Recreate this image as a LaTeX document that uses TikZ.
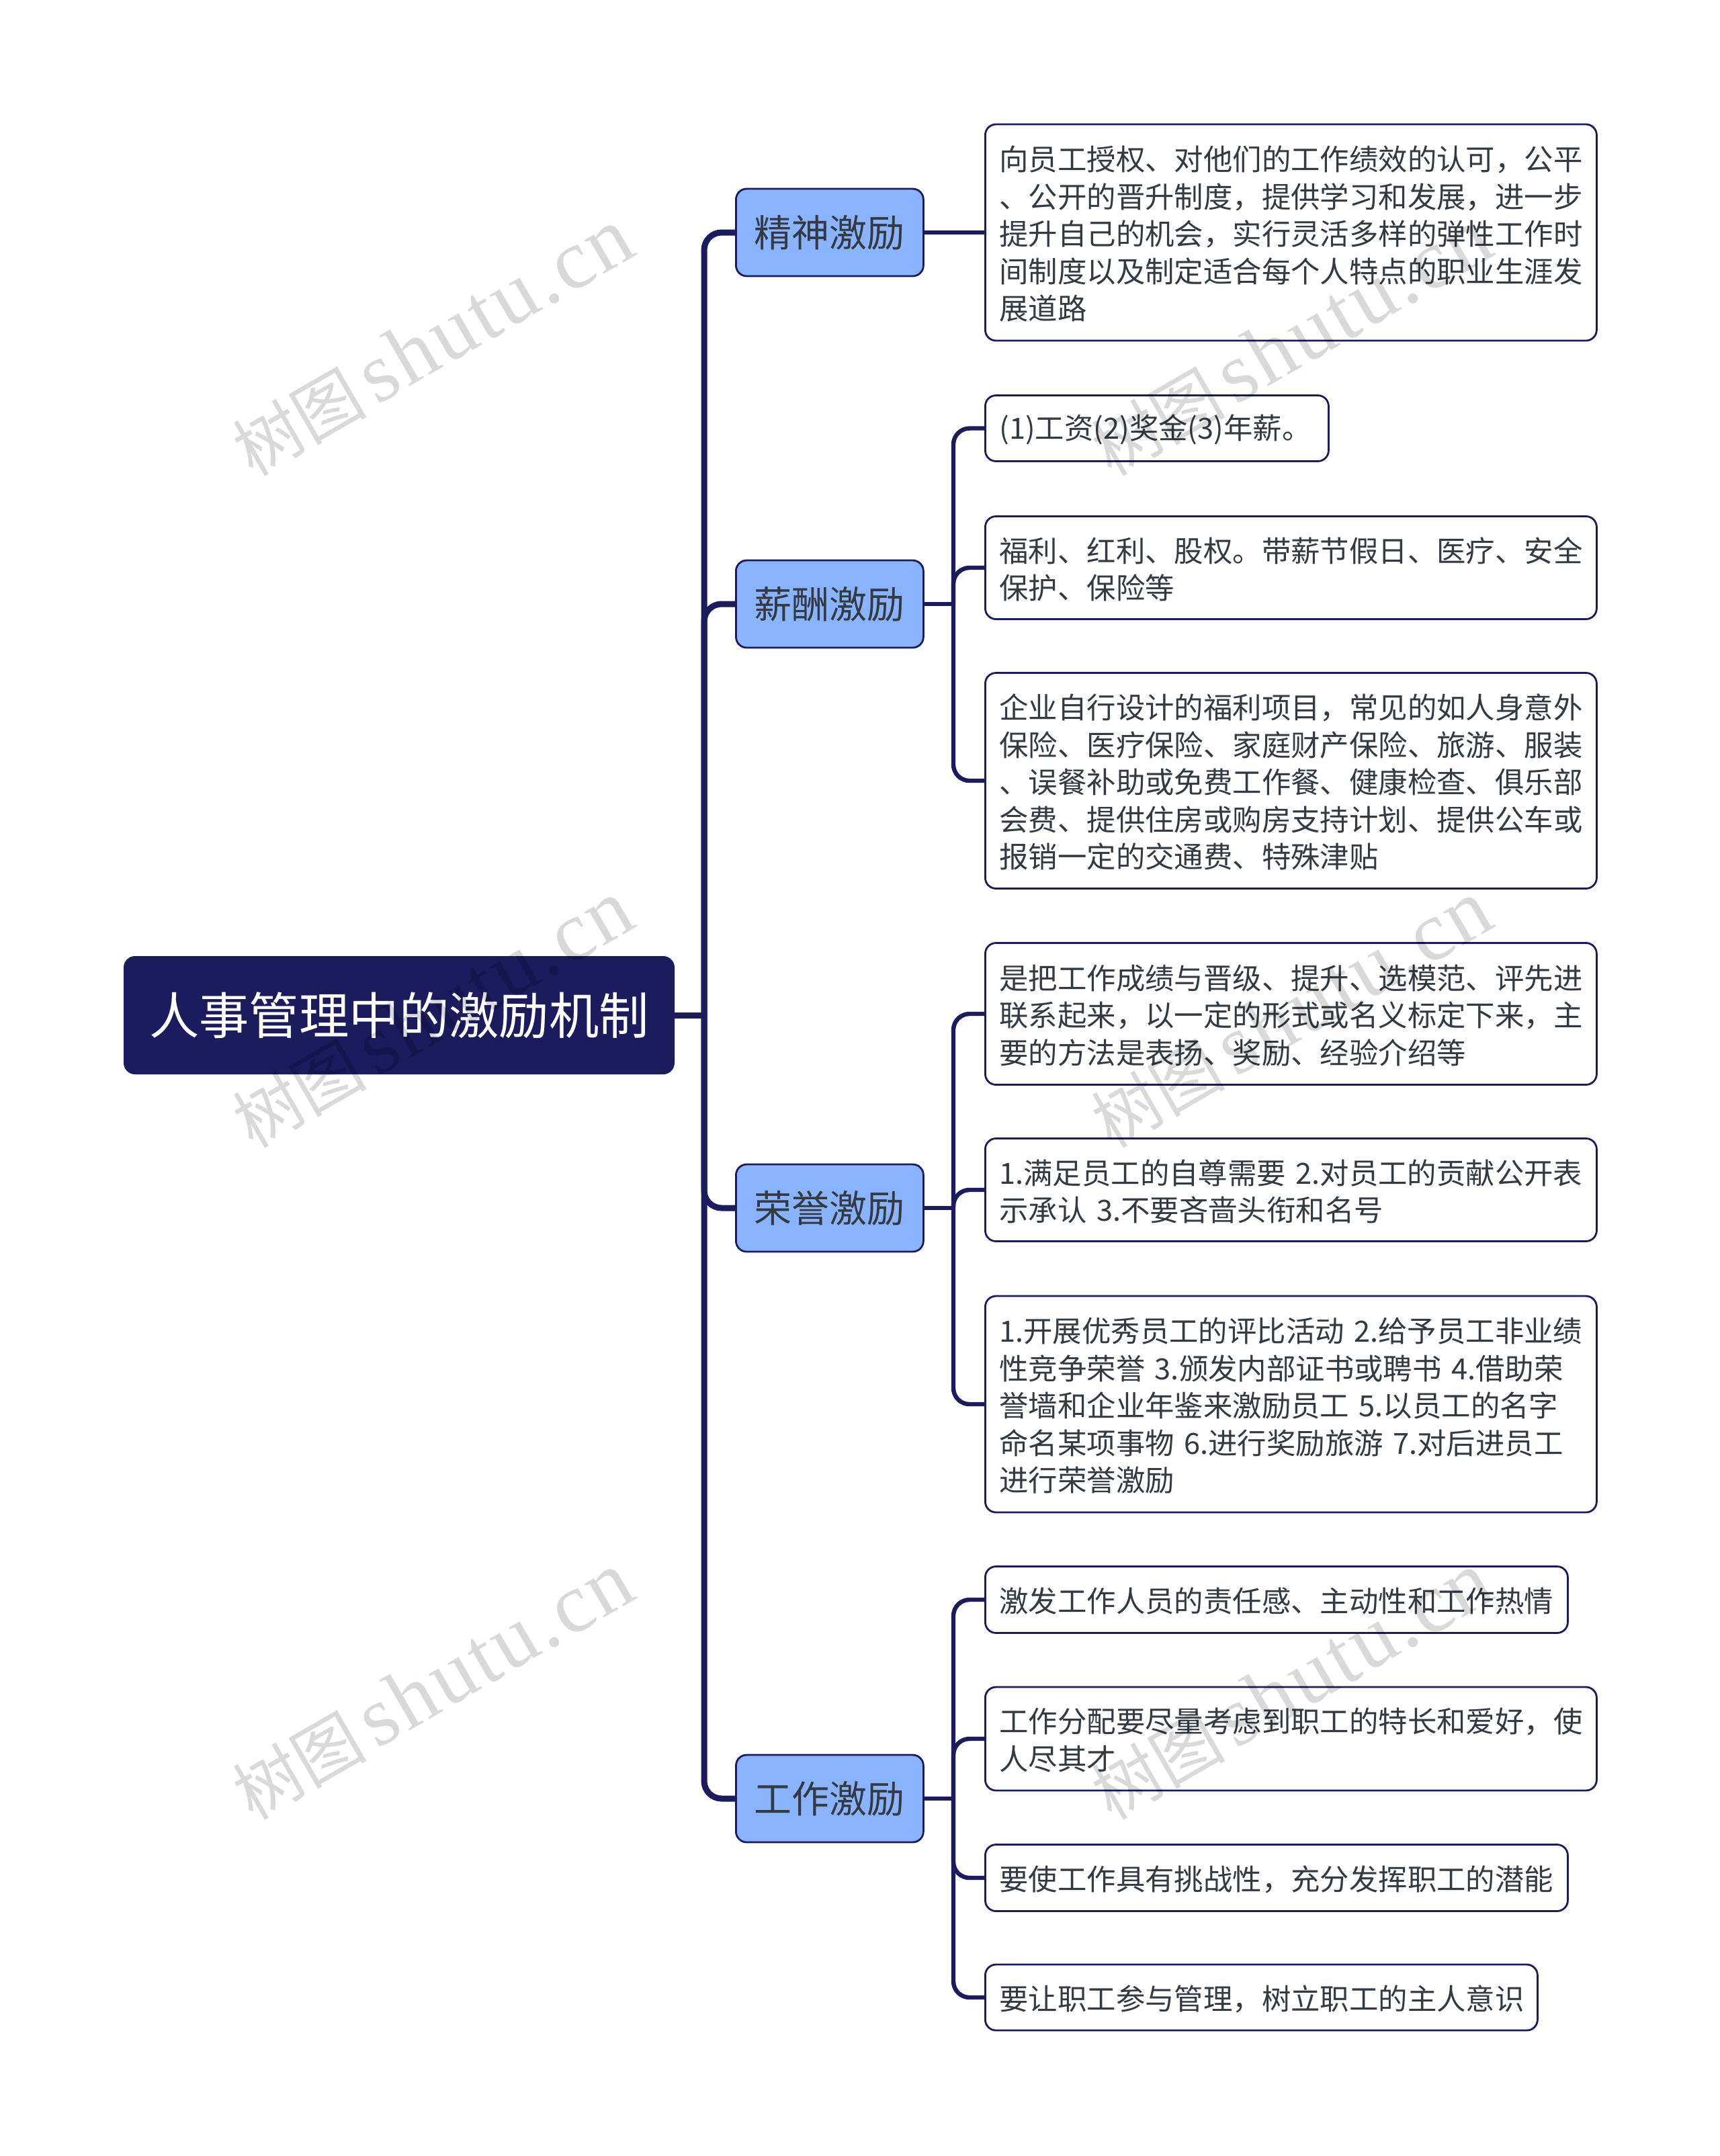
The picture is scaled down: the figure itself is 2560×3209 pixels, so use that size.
\documentclass[tikz,border=0pt]{standalone}
\usepackage{xcolor}
\usepackage{fontspec}
\setmainfont{Noto Sans CJK SC}
\newfontfamily\markcjk{Noto Sans CJK SC}
\newfontfamily\marklatin[LetterSpace=3]{Liberation Serif}
\usetikzlibrary{positioning}

\definecolor{navy}{HTML}{1B1B5E}
\definecolor{skyfill}{HTML}{8AB4FF}
\definecolor{inktext}{HTML}{333A42}

\tikzset{
	rootbox/.style={draw=navy, line width=1pt, fill=navy, text=white, rounded corners=8pt, anchor=west, minimum width=409pt, minimum height=87pt, inner sep=0pt, font=\fontsize{37.2}{44}\selectfont},
	branchbox/.style={draw=navy, line width=1.4pt, fill=skyfill, text=inktext, rounded corners=8pt, anchor=west, minimum width=139.5pt, minimum height=65pt, inner sep=0pt, font=\fontsize{28}{34}\selectfont},
	leafbox/.style={draw=navy, line width=1.4pt, fill=white, text=inktext, rounded corners=8pt, anchor=west, align=left, inner xsep=10.5pt, inner ysep=0pt, font=\fontsize{21.7}{27.7}\selectfont, execute at begin node={\rule{0pt}{20.5pt}}},
	linkmain/.style={draw=navy, line width=4.5pt, rounded corners=13pt},
	linksub/.style={draw=navy, line width=3.2pt, rounded corners=12pt},
	markstyle/.style={text=black, text opacity=0.15, rotate=30, inner sep=0pt}
}

\begin{document}
\begin{tikzpicture}[x=0.5pt, y=-0.5pt]
	\useasboundingbox (0,0) rectangle (2560,3209);
	
	\coordinate (trunk) at (1048,1511);
	\coordinate (sub2) at (1419,899);
	\coordinate (sub3) at (1419,1798);
	\coordinate (sub4) at (1419,2677);
	
	\node[rootbox] (root) at (184,1511) {人事管理中的激励机制};
	
	\node[branchbox] (spirit) at (1094,346) {精神激励};
	\node[branchbox] (salary) at (1094,899) {薪酬激励};
	\node[branchbox] (honor) at (1094,1798) {荣誉激励};
	\node[branchbox] (work) at (1094,2677) {工作激励};
	
	\node[leafbox, text width=434pt, minimum height=161pt] (leaf1) at (1465,346) {向员工授权、对他们的工作绩效的认可，公平\\、公开的晋升制度，提供学习和发展，进一步\\提升自己的机会，实行灵活多样的弹性工作时\\间制度以及制定适合每个人特点的职业生涯发\\展道路};
	
	\node[leafbox, text width=234.5pt, minimum height=49pt] (leaf2) at (1465,637.5) {(1)工资(2)奖金(3)年薪。};
	\node[leafbox, text width=434pt, minimum height=76.5pt] (leaf3) at (1465,845) {福利、红利、股权。带薪节假日、医疗、安全\\保护、保险等};
	\node[leafbox, text width=434pt, minimum height=160.5pt] (leaf4) at (1465,1162) {企业自行设计的福利项目，常见的如人身意外\\保险、医疗保险、家庭财产保险、旅游、服装\\、误餐补助或免费工作餐、健康检查、俱乐部\\会费、提供住房或购房支持计划、提供公车或\\报销一定的交通费、特殊津贴};
	
	\node[leafbox, text width=434pt, minimum height=105.5pt] (leaf5) at (1465,1509) {是把工作成绩与晋级、提升、选模范、评先进\\联系起来，以一定的形式或名义标定下来，主\\要的方法是表扬、奖励、经验介绍等};
	\node[leafbox, text width=434pt, minimum height=76.5pt] (leaf6) at (1465,1771) {1.满足员工的自尊需要 2.对员工的贡献公开表\\示承认 3.不要吝啬头衔和名号};
	\node[leafbox, text width=434pt, minimum height=161pt] (leaf7) at (1465,2090) {1.开展优秀员工的评比活动 2.给予员工非业绩\\性竞争荣誉 3.颁发内部证书或聘书 4.借助荣\\誉墙和企业年鉴来激励员工 5.以员工的名字\\命名某项事物 6.进行奖励旅游 7.对后进员工\\进行荣誉激励};
	
	\node[leafbox, text width=412.5pt, minimum height=49.5pt] (leaf8) at (1465,2381) {激发工作人员的责任感、主动性和工作热情};
	\node[leafbox, text width=434pt, minimum height=77pt] (leaf9) at (1465,2588) {工作分配要尽量考虑到职工的特长和爱好，使\\人尽其才};
	\node[leafbox, text width=412.5pt, minimum height=49.5pt] (leaf10) at (1465,2795) {要使工作具有挑战性，充分发挥职工的潜能};
	\node[leafbox, text width=390pt, minimum height=49pt] (leaf11) at (1465,2973) {要让职工参与管理，树立职工的主人意识};
	
	% trunk and branches
	\draw[linkmain] (root.east) -- (trunk);
	\foreach \b in {spirit, salary, honor, work}
	\draw[linkmain] (trunk) |- (\b.west);
	
	\draw[linksub] (spirit.east) -- (leaf1.west);
	
	\draw[linksub] (salary.east) -- (sub2);
	\foreach \l in {leaf2, leaf3, leaf4}
	\draw[linksub] (sub2) |- (\l.west);
	
	\draw[linksub] (honor.east) -- (sub3);
	\foreach \l in {leaf5, leaf6, leaf7}
	\draw[linksub] (sub3) |- (\l.west);
	
	\draw[linksub] (work.east) -- (sub4);
	\foreach \l in {leaf8, leaf9, leaf10, leaf11}
	\draw[linksub] (sub4) |- (\l.west);
	
	% watermarks
	\foreach \x in {644, 1922}
	\foreach \y in {510, 1510, 2510}
	\node[markstyle] (mark\x\y) at (\x,\y) {{\fontsize{50}{60}\selectfont\markcjk 树图\hspace{7pt}}{\fontsize{63}{60}\selectfont\marklatin shutu.cn}};
\end{tikzpicture}
\end{document}
